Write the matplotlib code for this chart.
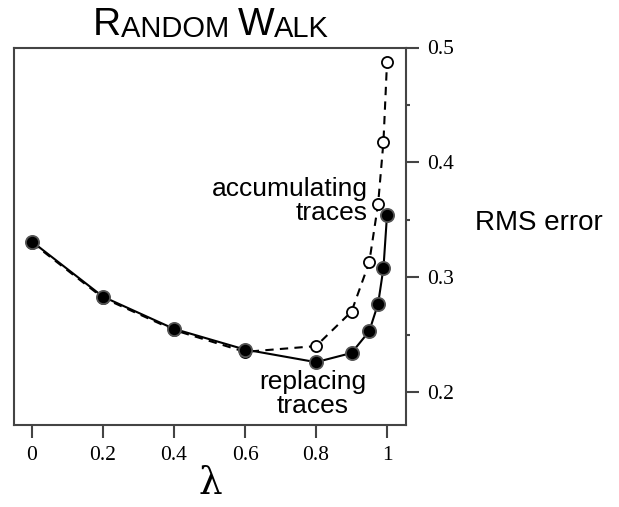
import matplotlib
matplotlib.use("Agg")
import matplotlib.pyplot as plt
from matplotlib.ticker import MultipleLocator

# lambda values and RMS error for the two kinds of traces
lambdas = [0, 0.2, 0.4, 0.6, 0.8, 0.9, 0.95, 0.975, 0.99, 1.0]
replacing = [0.331, 0.283, 0.255, 0.237, 0.226, 0.234, 0.253, 0.277, 0.308, 0.354]
accumulating = [0.330, 0.282, 0.254, 0.235, 0.240, 0.270, 0.313, 0.364, 0.418, 0.487]

x_ticks = [0, 0.2, 0.4, 0.6, 0.8, 1]
x_tick_labels = ["0", "0.2", "0.4", "0.6", "0.8", "1"]
y_ticks = [0.2, 0.3, 0.4, 0.5]
y_tick_labels = ["0.2", "0.3", "0.4", "0.5"]

SANS = "Liberation Sans"
SERIF = "Liberation Serif"
EDGE = "#444444"

fig = plt.figure(figsize=(6.19, 5.07), dpi=100)
ax = fig.add_axes([14 / 619, 1 - 425 / 507, (406 - 14) / 619, (425 - 47.5) / 507])

ax.plot(lambdas, accumulating, color="black", lw=1.5, ls=(0, (4, 3)),
        marker="o", ms=8, mfc="white", mec="black", mew=1.3, zorder=2)
ax.plot(lambdas, replacing, color="black", lw=1.5, ls="-",
        marker="o", ms=9.5, mfc="black", mec="#555555", mew=1.3, zorder=3)

ax.set_xlim(-0.0507, 1.0535)
ax.set_ylim(0.1713, 0.5)

for s in ax.spines.values():
    s.set_color(EDGE)
    s.set_linewidth(1.5)

ax.yaxis.tick_right()
ax.set_xticks(x_ticks)
ax.set_xticklabels(x_tick_labels, family=SERIF, fontsize=15.5)
ax.set_yticks(y_ticks)
ax.set_yticklabels(y_tick_labels, family=SERIF, fontsize=15.5)
ax.yaxis.set_minor_locator(MultipleLocator(0.05))
ax.tick_params(axis="both", which="major", direction="out", length=9, width=1.5,
               color=EDGE, pad=6)
ax.tick_params(axis="y", which="minor", direction="out", length=3, width=1.5, color=EDGE)
ax.tick_params(axis="x", which="both", top=False)

ax.set_xlabel("λ", family="DejaVu Serif", fontsize=27, labelpad=1)

ax.text(0.945, 0.366, "accumulating\ntraces", family=SANS, fontsize=19,
        ha="right", va="center", linespacing=1.0)
ax.text(0.79, 0.198, "replacing\ntraces", family=SANS, fontsize=19,
        ha="center", va="center", linespacing=1.0)

fig.text(475 / 619, 1 - 223 / 507, "RMS error", family=SANS, fontsize=20,
         ha="left", va="center")

# small caps title built from pieces
big, small = 28, 21
t = fig.text(93 / 619, 1 - 35 / 507, "R", family=SANS, fontsize=big, va="baseline")
for piece, size in [("ANDOM ", small), ("W", big), ("ALK", small)]:
    t = ax.annotate(piece, xy=(1, 0), xycoords=t, va="bottom", ha="left",
                    family=SANS, fontsize=size, annotation_clip=False)

fig.savefig("out.png", dpi=100)
